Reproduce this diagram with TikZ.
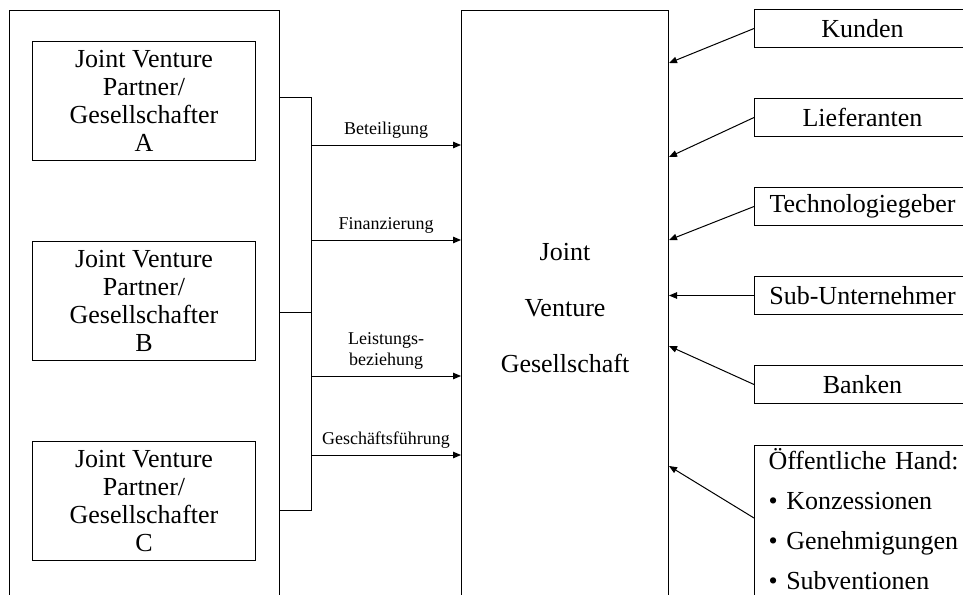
\documentclass[tikz,border=0pt]{standalone}
\usepackage{fontspec}
\setmainfont{Liberation Serif}
\usetikzlibrary{positioning,calc,arrows.meta}

\tikzset{
	partnerbox/.style={rectangle, draw, minimum width=223pt, minimum height=119pt, inner sep=0pt, align=center, font=\fontsize{26}{28}\selectfont},
	actorbox/.style={rectangle, draw, minimum width=216pt, minimum height=38pt, inner sep=0pt, font=\fontsize{26}{30}\selectfont},
	flow/.style={-{Triangle[length=8pt,width=6.5pt]}},
	flowlabel/.style={above, inner ysep=6pt, align=center, font=\fontsize{18}{21}\selectfont}
}

\begin{document}
\begin{tikzpicture}[x=1pt, y=-1pt, line width=1pt]
				\useasboundingbox (0,0) rectangle (963,594);
				\clip (0,0) rectangle (963,594);
				% frames
				\node[rectangle, draw, minimum width=270pt, minimum height=620pt, anchor=north west] (partners) at (9,10) {};
				\node[rectangle, draw, minimum width=207pt, minimum height=596pt, anchor=north west, align=center, font=\fontsize{26}{56}\selectfont] (jv) at (461,10) {Joint\\Venture\\Gesellschaft};
				% partners
				\node[partnerbox, anchor=north west] (ga) at (32,41) {Joint Venture\\Partner/\\Gesellschafter\\A};
				\node[partnerbox, below=80pt of ga] (gb) {Joint Venture\\Partner/\\Gesellschafter\\B};
				\node[partnerbox, below=80pt of gb] (gc) {Joint Venture\\Partner/\\Gesellschafter\\C};
				% bracket
				\coordinate (btop) at (311,97);
				\coordinate (bmid) at (311,312);
				\coordinate (bbot) at (311,510);
				\draw (partners.east |- btop) -- (btop) -- (bbot) -- (partners.east |- bbot);
				\draw (partners.east |- bmid) -- (bmid);
				\foreach \ty/\txt [count=\i] in {145/Beteiligung, 240/Finanzierung, 376/{Leistungs-\\beziehung}, 455/Geschäftsführung} {
					\coordinate (f\i) at (311,\ty);
					\draw[flow] (f\i) -- (jv.west |- f\i) node[midway, flowlabel] {\txt};
				}
				% actors
				\node[actorbox, anchor=north west] (kunden) at (754,9) {Kunden};
				\node[actorbox, below=50pt of kunden] (lief) {Lieferanten};
				\node[actorbox, below=50pt of lief] (tech) {Technologiegeber};
				\node[actorbox, below=50pt of tech] (sub) {Sub-Unternehmer};
				\node[actorbox, below=50pt of sub] (banken) {Banken};
				\node[rectangle, draw, inner xsep=14pt, inner ysep=3pt, anchor=north west, align=left, text width=210pt, font=\fontsize{26}{40}\selectfont] (oeff) at ($(banken.south west)+(0,41)$) {Öffentliche Hand:\\\textbullet{} Konzessionen\\\textbullet{} Genehmigungen\\\textbullet{} Subventionen\rule[-20pt]{0pt}{0pt}};
				\coordinate (oeffsrc) at (754,518);
				\foreach \src/\ty in {kunden.west/63, lief.west/157, tech.west/240, banken.west/346, oeffsrc/466}
					\draw[flow] (\src) -- (jv.east |- 0,\ty);
				\draw[flow] (sub.west) -- (jv.east |- sub.west);
			\end{tikzpicture}
\end{document}
